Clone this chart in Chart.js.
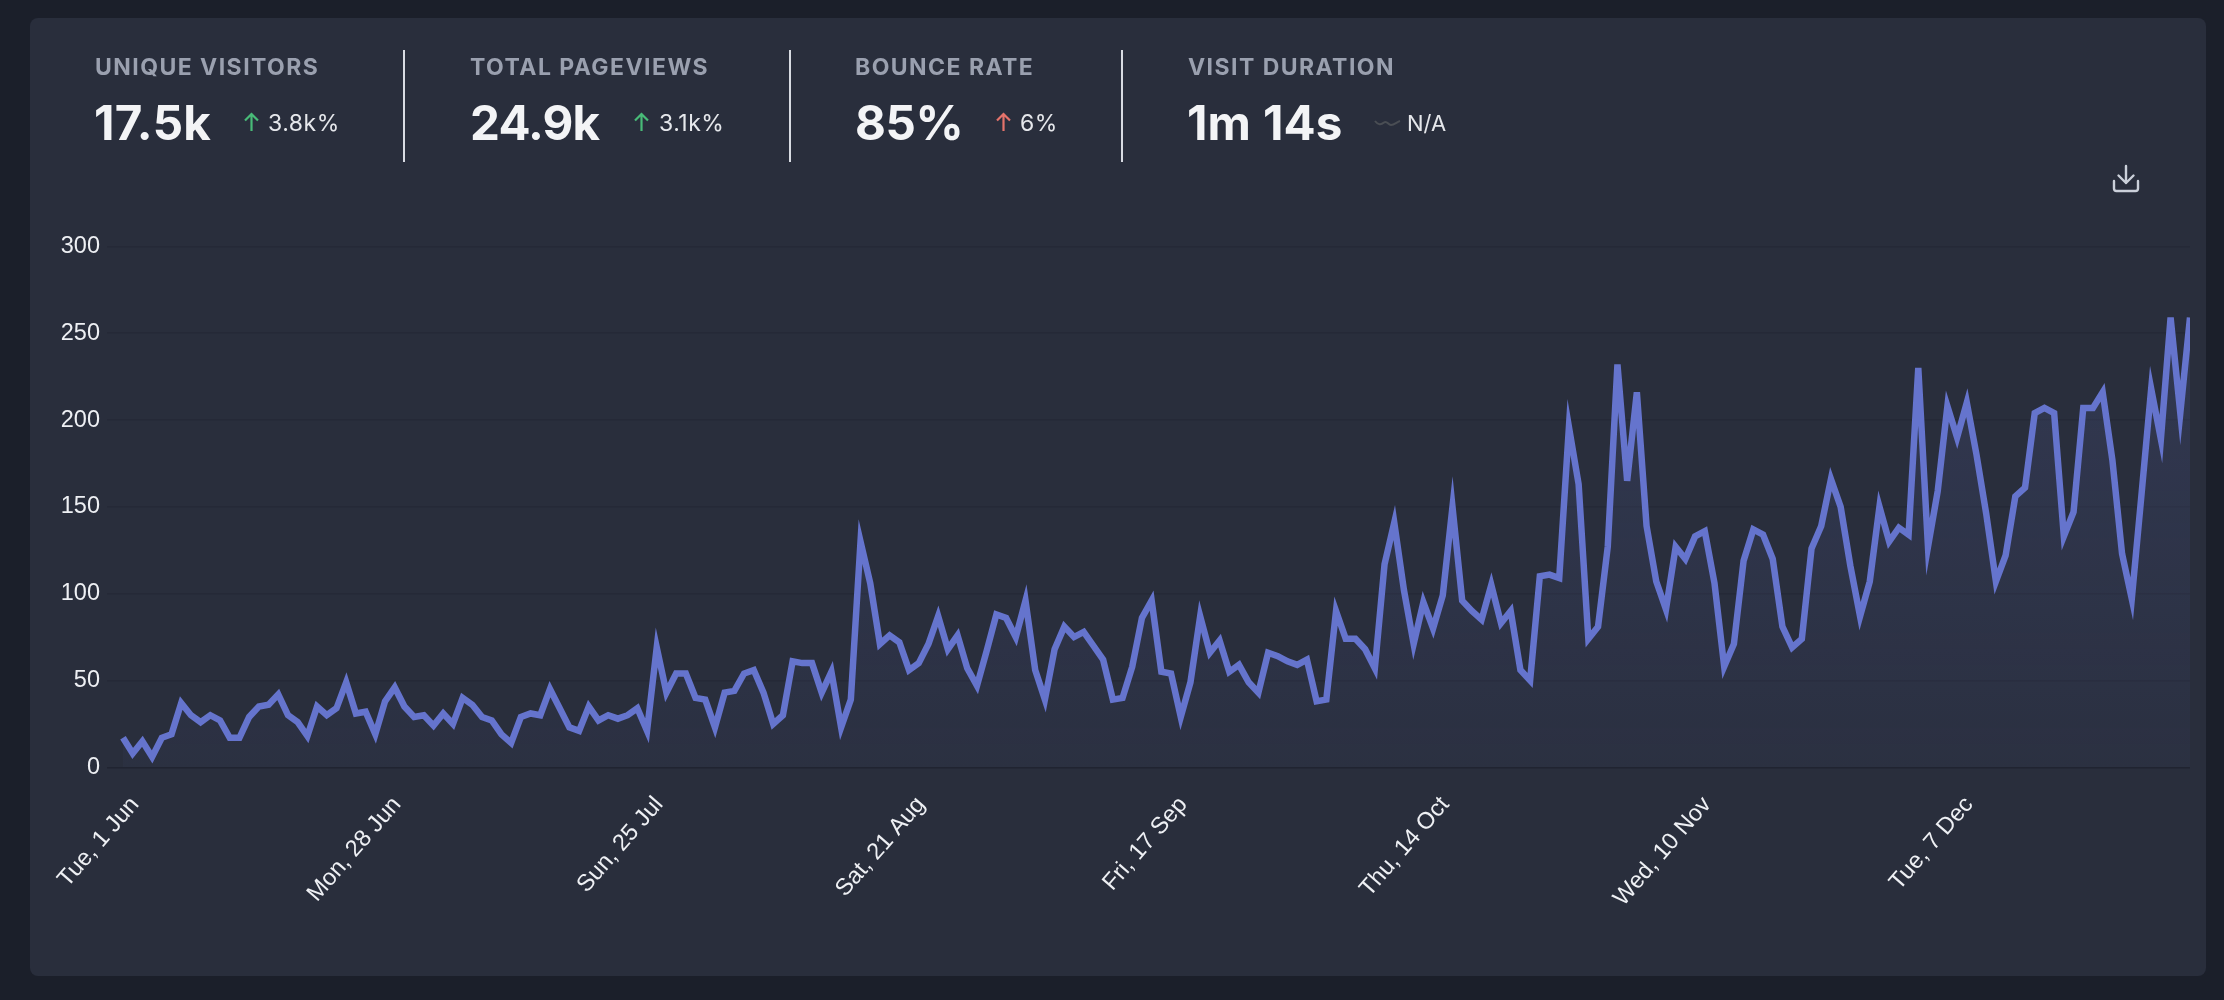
<!DOCTYPE html>
<html>
<head>
<meta charset="utf-8">
<script src="https://cdn.jsdelivr.net/npm/chart.js@4/dist/chart.umd.min.js"></script>
<style>
    html, body { margin: 0; width: 2224px; height: 1000px; overflow: hidden; background: #1b1f2a; }
    #card { position: absolute; left: 30px; top: 18px; width: 2176px; height: 958px; background: #292e3c; border-radius: 8px; }
    #chart { position: absolute; left: 0; top: 0; }
    .lbl, .val, .chg { position: absolute; font-family: Inter, sans-serif; white-space: nowrap; }
    .lbl { top: 52px; line-height: 30px; font-size: 23px; font-weight: 700; letter-spacing: 1.45px; color: #9aa0af; }
    .val { top: 93px; line-height: 60px; font-size: 47.5px; font-weight: 700; color: #f3f4f6; }
    .chg { top: 108px; line-height: 30px; font-size: 23px; font-weight: 400; letter-spacing: 0.5px; color: #e5e7eb; }
    .div { position: absolute; top: 50px; width: 2px; height: 112px; background: #d8dbe2; }
    svg.ico { position: absolute; }
</style>
</head>
<body>
<div id="card"></div>
<canvas id="chart" width="2224" height="1000"></canvas>

<span class="lbl" style="left:95px">UNIQUE VISITORS</span>
<span class="val" style="left:94px;letter-spacing:0.3px">17.5k</span>
<svg class="ico" style="left:243px;top:112px" width="17" height="20" viewBox="0 0 17 20" fill="none" stroke="#48bb78" stroke-width="2.2"><path d="M8.5 19V2M2 8.5L8.5 2L15 8.5"/></svg>
<span class="chg" style="left:268px">3.8k%</span>
<div class="div" style="left:403px"></div>

<span class="lbl" style="left:470px">TOTAL PAGEVIEWS</span>
<span class="val" style="left:470px;letter-spacing:-0.8px">24.9k</span>
<svg class="ico" style="left:633px;top:112px" width="17" height="20" viewBox="0 0 17 20" fill="none" stroke="#48bb78" stroke-width="2.2"><path d="M8.5 19V2M2 8.5L8.5 2L15 8.5"/></svg>
<span class="chg" style="left:659px">3.1k%</span>
<div class="div" style="left:789px"></div>

<span class="lbl" style="left:855px">BOUNCE RATE</span>
<span class="val" style="left:855px;letter-spacing:-0.4px">85%</span>
<svg class="ico" style="left:995px;top:112px" width="17" height="20" viewBox="0 0 17 20" fill="none" stroke="#e5736b" stroke-width="2.2"><path d="M8.5 19V2M2 8.5L8.5 2L15 8.5"/></svg>
<span class="chg" style="left:1020px">6%</span>
<div class="div" style="left:1121px"></div>

<span class="lbl" style="left:1188px">VISIT DURATION</span>
<span class="val" style="left:1187px;word-spacing:1px">1m 14s</span>
<svg class="ico" style="left:1374px;top:116px" width="27" height="14" viewBox="0 0 27 14" fill="none" stroke="#4a4e54" stroke-width="2"><path d="M1 5C4 9 7 9 10 6.5C13 4 14 9 17 9C20 9 23 6 26 5"/></svg>
<span class="chg" style="left:1407px;font-size:22px;letter-spacing:0">N/A</span>

<svg class="ico" style="left:2111px;top:163px" width="30" height="30" viewBox="0 0 30 30" fill="none" stroke="#cbd0da" stroke-width="2.4" stroke-linecap="round" stroke-linejoin="round"><path d="M15 3V20M7.5 12.5L15 20L22.5 12.5M3 18V25.5Q3 28 5.5 28H24.5Q27 28 27 25.5V18"/></svg>

<script>
const tickLabels = ["Tue, 1 Jun", "Mon, 28 Jun", "Sun, 25 Jul", "Sat, 21 Aug", "Fri, 17 Sep", "Thu, 14 Oct", "Wed, 10 Nov", "Tue, 7 Dec"];
const yTicks = [0, 50, 100, 150, 200, 250, 300];

const visitorsJun = [17, 8, 15, 6, 17, 19, 37, 30, 26, 30, 27, 17, 17, 29, 35, 36, 42, 30, 26, 18, 35, 30, 34, 49, 31, 32, 19, 38, 46, 35];
const visitorsJul = [29, 30, 24, 31, 25, 40, 36, 29, 27, 19, 14, 29, 31, 30, 45, 34, 23, 21, 35, 27, 30, 28, 30, 34, 21, 69, 43, 54, 54, 40, 39];
const visitorsAug = [23, 43, 44, 54, 56, 43, 25, 30, 61, 60, 60, 43, 55, 23, 39, 130, 106, 71, 76, 72, 56, 60, 71, 87, 68, 76, 57, 47, 67, 88, 86];
const visitorsSep = [75, 96, 56, 39, 68, 81, 75, 78, 70, 62, 39, 40, 58, 86, 96, 55, 54, 29, 49, 87, 66, 73, 55, 59, 49, 43, 66, 64, 61, 59];
const visitorsOct = [62, 38, 39, 90, 74, 74, 68, 57, 117, 141, 102, 71, 95, 80, 99, 150, 96, 90, 85, 105, 83, 90, 56, 50, 110, 111, 109, 196, 163, 74, 81];
const visitorsNov = [127, 232, 165, 216, 139, 107, 91, 127, 120, 133, 136, 106, 58, 71, 119, 137, 134, 120, 81, 69, 74, 126, 139, 166, 150, 116, 87, 107, 150, 130];
const visitorsDec = [138, 134, 230, 127, 159, 208, 190, 210, 180, 146, 107, 122, 156, 161, 204, 207, 204, 133, 147, 207, 207, 216, 177, 123, 97, 157, 218, 189, 259, 204, 259];

const visitors = [].concat(visitorsJun, visitorsJul, visitorsAug, visitorsSep, visitorsOct, visitorsNov, visitorsDec);
const tickEvery = 27;

new Chart(document.getElementById("chart"), {
    type: "line",
    data: {
        labels: visitors.map((v, i) => i % tickEvery === 0 ? tickLabels[i / tickEvery] : ""),
        datasets: [{
            label: "Visitors",
            data: visitors,
            borderColor: "#6574cd",
            borderWidth: 6.5,
            pointRadius: 0,
            tension: 0,
            fill: true,
            clip: { left: 8, top: 8, bottom: 8, right: 0 },
            backgroundColor: function (ctx) {
                let area = ctx.chart.chartArea;
                if (!area) return "rgba(101, 116, 205, 0.1)";
                let gradient = ctx.chart.ctx.createLinearGradient(0, area.top, 0, area.bottom);
                gradient.addColorStop(0, "rgba(101, 116, 205, 0.17)");
                gradient.addColorStop(1, "rgba(101, 116, 205, 0.04)");
                return gradient;
            }
        }]
    },
    options: {
        responsive: false,
        animation: false,
        devicePixelRatio: 1,
        layout: { padding: { left: 40, right: 34, top: 246.4, bottom: 0 } },
        plugins: { legend: { display: false }, tooltip: { enabled: false } },
        scales: {
            x: {
                grid: { display: false },
                border: { display: false },
                afterFit: function (scale) {
                    scale.height = 232.7;
                    scale.paddingLeft = 0;
                    scale.paddingRight = 0;
                },
                ticks: {
                    autoSkip: false,
                    maxRotation: 49,
                    minRotation: 49,
                    padding: 16,
                    labelOffset: 12,
                    color: "#eef0f4",
                    font: { family: "'Liberation Sans'", size: 23.5 }
                }
            },
            y: {
                min: 0,
                max: 300,
                border: { display: false },
                afterFit: function (scale) { scale.width = 83; },
                afterBuildTicks: function (scale) { scale.ticks = yTicks.map(v => ({ value: v })); },
                grid: {
                    tickLength: 16,
                    lineWidth: 1.5,
                    color: ctx => ctx.tick && ctx.tick.value === 0 ? "rgba(23, 25, 35, 0.45)" : "rgba(23, 25, 35, 0.2)"
                },
                ticks: {
                    padding: 7,
                    color: "#eef0f4",
                    font: { family: "'Liberation Sans'", size: 23.5 }
                }
            }
        }
    }
});
</script>
</body>
</html>
